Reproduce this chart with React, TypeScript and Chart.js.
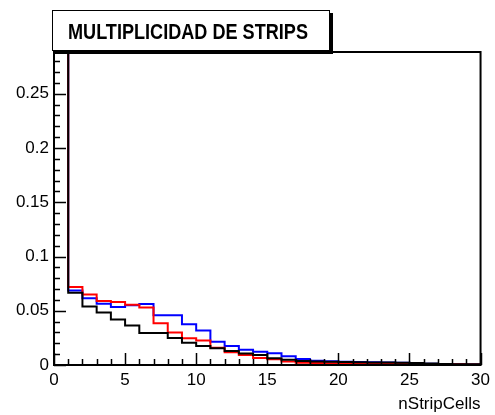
import React, { useEffect, useRef } from 'react';
import { Chart, registerables } from 'chart.js';

Chart.register(...registerables);

// ---- data ----
const binStarts = [0, 1, 2, 3, 4, 5, 6, 7, 8, 9, 10, 11, 12, 13, 14, 15, 16, 17, 18, 19, 20, 21, 22, 23, 24, 25, 26, 27, 28, 29];
const binEnd = 30;

const redValues = [0.6, 0.072, 0.065, 0.059, 0.058, 0.0555, 0.053, 0.0385, 0.03, 0.0246, 0.0225, 0.016, 0.0118, 0.0092, 0.0065, 0.0053, 0.0032, 0.002, 0.0018, 0.0017, 0.0016, 0.0012, 0.0012, 0.0011, 0.001, 0.001, 0.0008, 0.0007, 0.0006, 0.0005];
const blueValues = [0.55, 0.0686, 0.0615, 0.0565, 0.0535, 0.055, 0.0562, 0.0458, 0.0458, 0.0375, 0.0317, 0.0215, 0.0175, 0.014, 0.0123, 0.0108, 0.008, 0.0055, 0.004, 0.0035, 0.003, 0.0028, 0.0025, 0.0022, 0.002, 0.0018, 0.0012, 0.0009, 0.0007, 0.0005];
const blackValues = [0.5, 0.0667, 0.054, 0.0485, 0.042, 0.0365, 0.0295, 0.0295, 0.025, 0.0205, 0.0175, 0.0155, 0.013, 0.0105, 0.0092, 0.0062, 0.0048, 0.0038, 0.0032, 0.003, 0.0028, 0.0026, 0.0024, 0.0022, 0.002, 0.0018, 0.0013, 0.001, 0.0008, 0.0006];

const xTickValues = [0, 5, 10, 15, 20, 25, 30];
const xTickLabels = ['0', '5', '10', '15', '20', '25', '30'];
const yTickValues = [0, 0.05, 0.1, 0.15, 0.2, 0.25];
const yTickLabels = ['0', '0.05', '0.1', '0.15', '0.2', '0.25'];

const titleText = 'MULTIPLICIDAD DE STRIPS';
const xAxisTitle = 'nStripCells';

const X_MIN = 0;
const X_MAX = 30;
const Y_MIN = 0;
const Y_MAX = 0.2885;

const FONT = '"Liberation Sans", Arial, Helvetica, sans-serif';

function toSteps(values: number[]) {
  const pts = values.map((v, i) => ({ x: binStarts[i], y: v }));
  pts.push({ x: binEnd, y: values[values.length - 1] });
  return pts;
}

const rootPlugin = {
  id: 'rootDecor',
  afterDatasetsDraw(chart: any) {
    const ctx = chart.ctx as CanvasRenderingContext2D;
    const { left, right, top, bottom } = chart.chartArea;
    const xs = chart.scales.x;
    const ys = chart.scales.y;
    ctx.save();
    ctx.strokeStyle = '#000';
    ctx.fillStyle = '#000';

    // frame
    ctx.lineWidth = 2;
    ctx.strokeRect(left, top, right - left, bottom - top);

    // y ticks (inside)
    ctx.lineWidth = 1.5;
    ctx.beginPath();
    for (let k = 0; k <= 28; k++) {
      const v = k * 0.01;
      const py = Math.round(ys.getPixelForValue(v)) + 0.5;
      const len = k % 5 === 0 ? 12 : 6;
      ctx.moveTo(left, py);
      ctx.lineTo(left + len, py);
    }
    // x ticks (inside)
    for (let k = X_MIN; k <= X_MAX; k++) {
      const px = Math.round(xs.getPixelForValue(k)) + 0.5;
      const len = k % 5 === 0 ? 12 : 6;
      ctx.moveTo(px, bottom);
      ctx.lineTo(px, bottom - len);
    }
    ctx.stroke();

    // x axis title
    ctx.font = `17px ${FONT}`;
    ctx.textAlign = 'right';
    ctx.textBaseline = 'alphabetic';
    ctx.fillText(xAxisTitle, right, 409);

    // title box with shadow
    const bx = 52, by = 10, bw = 277, bh = 40;
    ctx.fillStyle = '#000';
    ctx.fillRect(bx + 3, by + bh, bw, 4);
    ctx.fillRect(bx + bw, by + 3, 4, bh + 1);
    ctx.fillStyle = '#fff';
    ctx.fillRect(bx, by, bw, bh);
    ctx.lineWidth = 1;
    ctx.strokeStyle = '#000';
    ctx.strokeRect(bx + 0.5, by + 0.5, bw, bh);

    ctx.fillStyle = '#000';
    ctx.font = `bold 22px ${FONT}`;
    ctx.textAlign = 'left';
    ctx.textBaseline = 'alphabetic';
    const w = ctx.measureText(titleText).width;
    const targetW = 240;
    ctx.translate(68, 39);
    ctx.scale(targetW / w, 1);
    ctx.fillText(titleText, 0, 0);
    ctx.restore();
  },
};

export default function App() {
  const canvasRef = useRef<HTMLCanvasElement | null>(null);

  useEffect(() => {
    if (!canvasRef.current) return;
    const mk = (label: string, values: number[], color: string) => ({
      label,
      data: toSteps(values),
      borderColor: color,
      backgroundColor: color,
      borderWidth: 2,
      pointRadius: 0,
      stepped: 'before' as const,
      fill: false,
      tension: 0,
      clip: 0,
    });
    const chart = new Chart(canvasRef.current, {
      type: 'line',
      data: {
        datasets: [
          mk('black', blackValues, '#000000'),
          mk('red', redValues, '#ff0000'),
          mk('blue', blueValues, '#0000ff'),
        ],
      },
      options: {
        animation: false,
        responsive: false,
        maintainAspectRatio: false,
        devicePixelRatio: 1,
        layout: { padding: { left: 0, right: 11, top: 52, bottom: 0 } },
        plugins: {
          legend: { display: false },
          tooltip: { enabled: false },
          title: { display: false },
        },
        scales: {
          x: {
            type: 'linear',
            min: X_MIN,
            max: X_MAX,
            grid: { display: false, drawTicks: false },
            border: { display: false },
            afterBuildTicks: (s: any) => {
              s.ticks = xTickValues.map((v) => ({ value: v }));
            },
            afterFit: (s: any) => {
              s.height = 50;
            },
            ticks: {
              autoSkip: false,
              maxRotation: 0,
              minRotation: 0,
              padding: 5,
              color: '#000',
              font: { family: FONT, size: 17 },
              callback: (_v: any, i: number) => xTickLabels[i],
            },
          },
          y: {
            type: 'linear',
            min: Y_MIN,
            max: Y_MAX,
            grid: { display: false, drawTicks: false },
            border: { display: false },
            afterBuildTicks: (s: any) => {
              s.ticks = yTickValues.map((v) => ({ value: v }));
            },
            afterFit: (s: any) => {
              s.width = 54;
            },
            ticks: {
              autoSkip: false,
              padding: 5,
              color: '#000',
              font: { family: FONT, size: 17 },
              callback: (_v: any, i: number) => yTickLabels[i],
            },
          },
        },
      },
      plugins: [rootPlugin],
    });
    return () => chart.destroy();
  }, []);

  return (
    <div style={{ position: 'fixed', left: 0, top: 0, width: 495, height: 415, background: '#fff' }}>
      <canvas ref={canvasRef} width={495} height={415} style={{ width: 495, height: 415, display: 'block' }} />
    </div>
  );
}
